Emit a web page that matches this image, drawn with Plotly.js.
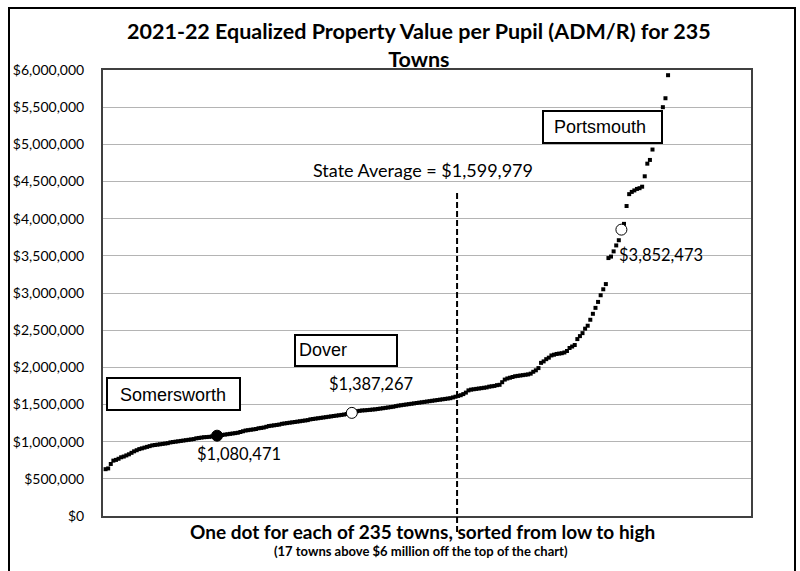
<!DOCTYPE html>
<html>
<head>
<meta charset="utf-8">
<script src="https://cdn.plot.ly/plotly-3.0.1.min.js"></script>
<style>html,body{margin:0;padding:0;background:#fff;}#chart{width:800px;height:571px;}</style>
</head>
<body>
<div id="chart"></div>
<script>
// Equalized property value per pupil, sorted low to high (rank 1..218 visible; 17 more towns are above $6M, off the chart)
const values = [
  630000, 640000, 700000, 745000, 755000, 770000, 790000, 800000, 815000, 830000,
  850000, 870000, 885000, 900000, 910000, 920000, 930000, 940000, 950000, 955000,
  960000, 965000, 970000, 975000, 980000, 990000, 995000, 1000000, 1005000, 1010000,
  1015000, 1020000, 1025000, 1030000, 1035000, 1045000, 1050000, 1055000, 1060000, 1062000,
  1065000, 1070000, 1075000, 1080471, 1085000, 1090000, 1095000, 1100000, 1105000, 1110000,
  1115000, 1120000, 1130000, 1140000, 1150000, 1155000, 1160000, 1165000, 1170000, 1180000,
  1185000, 1190000, 1200000, 1210000, 1215000, 1220000, 1225000, 1230000, 1240000, 1245000,
  1250000, 1255000, 1260000, 1265000, 1270000, 1275000, 1280000, 1285000, 1290000, 1300000,
  1305000, 1310000, 1315000, 1320000, 1325000, 1330000, 1335000, 1340000, 1345000, 1350000,
  1355000, 1360000, 1365000, 1372000, 1380000, 1387267, 1400000, 1410000, 1415000, 1420000,
  1422000, 1425000, 1428000, 1432000, 1435000, 1440000, 1445000, 1450000, 1455000, 1460000,
  1465000, 1470000, 1478000, 1485000, 1490000, 1495000, 1500000, 1505000, 1510000, 1515000,
  1520000, 1525000, 1530000, 1535000, 1540000, 1545000, 1550000, 1555000, 1560000, 1565000,
  1570000, 1575000, 1580000, 1585000, 1595000, 1605000, 1615000, 1625000, 1640000, 1660000,
  1690000, 1700000, 1705000, 1710000, 1715000, 1720000, 1725000, 1730000, 1740000, 1745000,
  1750000, 1760000, 1765000, 1800000, 1835000, 1850000, 1860000, 1870000, 1880000, 1885000,
  1890000, 1895000, 1900000, 1905000, 1915000, 1940000, 1960000, 1990000, 2060000, 2080000,
  2110000, 2130000, 2160000, 2170000, 2180000, 2185000, 2190000, 2200000, 2220000, 2260000,
  2280000, 2300000, 2380000, 2420000, 2460000, 2520000, 2560000, 2640000, 2720000, 2800000,
  2880000, 2970000, 3050000, 3120000, 3470000, 3490000, 3560000, 3640000, 3710000, 3852473,
  3930000, 4170000, 4330000, 4360000, 4380000, 4400000, 4410000, 4430000, 4570000, 4740000,
  4790000, 4930000, 5080000, 5230000, 5380000, 5500000, 5620000, 5930000
];
const totalTowns = 235;
const highlightNames = ['Somersworth', 'Dover', 'Portsmouth'];
const highlightRanks = [44, 96, 200];
const highlightValues = [1080471, 1387267, 3852473];
const stateAverage = 1599979;
const stateAverageRank = 136.6;
const yTickValues = [0, 500000, 1000000, 1500000, 2000000, 2500000, 3000000, 3500000, 4000000, 4500000, 5000000, 5500000, 6000000];
const yTickLabels = ['$0', '$500,000', '$1,000,000', '$1,500,000', '$2,000,000', '$2,500,000', '$3,000,000', '$3,500,000', '$4,000,000', '$4,500,000', '$5,000,000', '$5,500,000', '$6,000,000'];

const ranks = values.map((v, i) => i + 1);
const fmt = v => '$' + v.toLocaleString('en-US');

// layout geometry (pixels of the 800x571 page)
const L = 103, R = 751, T = 70, B = 516;
const px = x => (x - L) / (R - L);
const py = y => (B - y) / (B - T);
const CAL = 'Lato, "Open Sans", sans-serif';
const ARIAL = '"Liberation Sans", Arial, sans-serif';

const traces = [
  { type: 'scatter', mode: 'markers', x: ranks, y: values,
    marker: { symbol: 'square', size: 4, color: '#000' }, hoverinfo: 'x+y', showlegend: false },
  { type: 'scatter', mode: 'markers', x: [highlightRanks[0]], y: [highlightValues[0]],
    marker: { symbol: 'circle', size: 11, color: '#000', line: { color: '#000', width: 1 } }, showlegend: false },
  { type: 'scatter', mode: 'markers', x: highlightRanks.slice(1), y: highlightValues.slice(1),
    marker: { symbol: 'circle', size: 11, color: '#fff', line: { color: '#000', width: 1 } }, showlegend: false }
];

const boxes = [
  [107, 240, 378, 410],
  [295, 397, 335, 366],
  [543, 662, 111, 143]
];

const shapes = [
  { type: 'rect', xref: 'paper', yref: 'paper', x0: px(9), x1: px(795), y0: py(573), y1: py(8),
    line: { color: '#000', width: 2 }, fillcolor: 'rgba(0,0,0,0)', layer: 'below' },
  { type: 'line', xref: 'x', yref: 'paper', x0: stateAverageRank, x1: stateAverageRank, y0: py(193), y1: py(534),
    line: { color: '#000', width: 2, dash: '6px,3px' }, layer: 'above' }
].concat(boxes.map(b => ({ type: 'rect', xref: 'paper', yref: 'paper', x0: px(b[0]), x1: px(b[1]), y0: py(b[3]), y1: py(b[2]),
    line: { color: '#000', width: 2 }, fillcolor: '#fff', layer: 'above' })));

const annotations = [
  { xref: 'paper', yref: 'paper', x: px(419), y: py(45), xanchor: 'center', yanchor: 'middle', showarrow: false,
    text: '<b>2021-22 Equalized Property Value per Pupil (ADM/R) for ' + totalTowns + '<br>Towns</b>',
    font: { family: CAL, size: 21.5, color: '#000' } },
  { xref: 'paper', yref: 'paper', x: px(422), y: py(531), xanchor: 'center', yanchor: 'middle', showarrow: false,
    text: '<b>One dot for each of ' + totalTowns + ' towns, sorted from low to high</b>',
    font: { family: CAL, size: 19, color: '#000' } },
  { xref: 'paper', yref: 'paper', x: px(421), y: py(551), xanchor: 'center', yanchor: 'middle', showarrow: false,
    text: '<b>(17 towns above $6 million off the top of the chart)</b>',
    font: { family: CAL, size: 13, color: '#000' } },
  { xref: 'paper', yref: 'paper', x: px(423), y: py(170), xanchor: 'center', yanchor: 'middle', showarrow: false,
    text: 'State Average = ' + fmt(stateAverage), font: { family: CAL, size: 18, color: '#000' } },
  { xref: 'paper', yref: 'paper', x: px(173), y: py(395), xanchor: 'center', yanchor: 'middle', showarrow: false,
    text: highlightNames[0], font: { family: ARIAL, size: 18, color: '#000' } },
  { xref: 'paper', yref: 'paper', x: px(297), y: py(350), xanchor: 'left', yanchor: 'middle', showarrow: false,
    text: highlightNames[1], font: { family: ARIAL, size: 18, color: '#000' } },
  { xref: 'paper', yref: 'paper', x: px(600), y: py(127), xanchor: 'center', yanchor: 'middle', showarrow: false,
    text: highlightNames[2], font: { family: ARIAL, size: 18, color: '#000' } },
  { xref: 'x', yref: 'y', x: highlightRanks[0], y: highlightValues[0], xshift: 22, yshift: -18, showarrow: false,
    text: fmt(highlightValues[0]), font: { family: CAL, size: 16.5, color: '#000' } },
  { xref: 'x', yref: 'y', x: highlightRanks[1], y: highlightValues[1], xshift: 19, yshift: 29, showarrow: false,
    text: fmt(highlightValues[1]), font: { family: CAL, size: 16.5, color: '#000' } },
  { xref: 'x', yref: 'y', x: highlightRanks[2], y: highlightValues[2], xshift: 40, yshift: -25, showarrow: false,
    text: fmt(highlightValues[2]), font: { family: CAL, size: 16.5, color: '#000' } }
];

const layout = {
  width: 800, height: 571,
  margin: { l: L, r: 800 - R, t: T, b: 571 - B, pad: 0 },
  paper_bgcolor: '#fff', plot_bgcolor: '#fff',
  showlegend: false,
  xaxis: { range: [0, 250], showticklabels: false, ticks: '', showgrid: false, zeroline: false,
    showline: true, mirror: true, linecolor: '#404040', linewidth: 2, fixedrange: true },
  yaxis: { range: [0, 6000000], tickvals: yTickValues, ticktext: yTickLabels, ticks: '', ticklabelstandoff: 14,
    showgrid: true, gridcolor: '#b4b4b4', gridwidth: 1, zeroline: false,
    showline: true, mirror: true, linecolor: '#404040', linewidth: 2,
    tickfont: { family: CAL, size: 14, color: '#000' }, fixedrange: true },
  shapes: shapes,
  annotations: annotations
};

Plotly.newPlot('chart', traces, layout, { displayModeBar: false, staticPlot: true });
</script>
</body>
</html>
